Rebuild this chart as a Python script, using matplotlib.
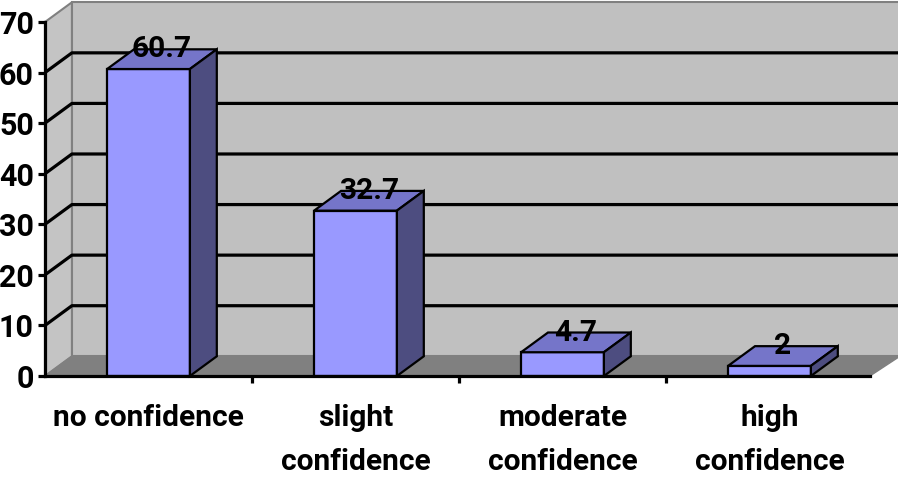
import matplotlib
matplotlib.use("Agg")
import matplotlib.pyplot as plt
from matplotlib.patches import Polygon

categories = ["no confidence", "slight\nconfidence", "moderate\nconfidence", "high\nconfidence"]
values = [60.7, 32.7, 4.7, 2]
value_labels = ["60.7", "32.7", "4.7", "2"]
y_ticks = [0, 10, 20, 30, 40, 50, 60, 70]

FONT = "Roboto"
DX, DY = 0.13, 3.9          # oblique depth offset, in data units
BAR_W = 0.4
FRONT, TOP, SIDE = "#9999ff", "#7575c9", "#4d4d80"
WALL, SIDE_WALL, FLOOR, BORDER = "#c0c0c0", "#c4c4c4", "#808080", "#808080"

fig = plt.figure(figsize=(8.98, 4.78), dpi=100)
ax = fig.add_axes([45 / 898, 102 / 478, 828 / 898, 354 / 478])
ax.set_xlim(-0.5, 3.5)
ax.set_ylim(0, 70)
ax.patch.set_visible(False)
ymax = y_ticks[-1]
x0, x1 = -0.5, 3.5


def poly(pts, fc, ec="none", lw=0, z=1):
    ax.add_patch(Polygon(pts, closed=True, facecolor=fc, edgecolor=ec,
                         linewidth=lw, zorder=z, clip_on=False, joinstyle="miter"))


# walls and floor
poly([(x0 + DX, DY), (x1 + DX, DY), (x1 + DX, ymax + DY), (x0 + DX, ymax + DY)],
     WALL, BORDER, 1.5, 0)
poly([(x0, 0), (x0 + DX, DY), (x0 + DX, ymax + DY), (x0, ymax)],
     SIDE_WALL, BORDER, 1.5, 0)
poly([(x0, 0), (x1 - 0.015, 0), (x1 + DX, DY), (x0 + DX, DY)],
     FLOOR, BORDER, 1.0, 0.5)

# gridlines on back and side wall
for t in y_ticks[1:-1]:
    ax.plot([x0, x0 + DX, x1 + DX], [t, t + DY, t + DY], color="black",
            lw=2.3, zorder=1, clip_on=False, solid_capstyle="butt")

# bars
for i, v in enumerate(values):
    l, r = i - BAR_W / 2, i + BAR_W / 2
    poly([(l, 0), (r, 0), (r, v), (l, v)], FRONT, "black", 1.6, 3)
    poly([(l, v), (r, v), (r + DX, v + DY), (l + DX, v + DY)], TOP, "black", 1.6, 3)
    poly([(r, 0), (r + DX, DY), (r + DX, v + DY), (r, v)], SIDE, "black", 1.6, 3)
    ax.text(i + DX / 2, v + DY, value_labels[i], ha="center", va="center",
            fontsize=21.5, fontweight="bold", family=FONT, zorder=5)

# axes
for s in ["top", "right"]:
    ax.spines[s].set_visible(False)
for s in ["left", "bottom"]:
    ax.spines[s].set_linewidth(2.3)
    ax.spines[s].set_zorder(4)
ax.spines["bottom"].set_bounds(x0, x1 - 0.015)

ax.set_yticks(y_ticks)
ax.set_yticklabels([str(t) for t in y_ticks], fontsize=22, fontweight="bold", family=FONT)
ax.tick_params(axis="y", length=5, width=2.3, pad=3)

ax.set_xticks([0.5, 1.5, 2.5])
ax.set_xticklabels([])
ax.tick_params(axis="x", which="major", length=5, width=2.3)
ax.set_xticks(range(len(categories)), minor=True)
ax.set_xticklabels(categories, minor=True, fontsize=21.5, fontweight="bold",
                   family=FONT, linespacing=1.76)
ax.tick_params(axis="x", which="minor", length=0, pad=20)

fig.savefig("out.png", dpi=100)
